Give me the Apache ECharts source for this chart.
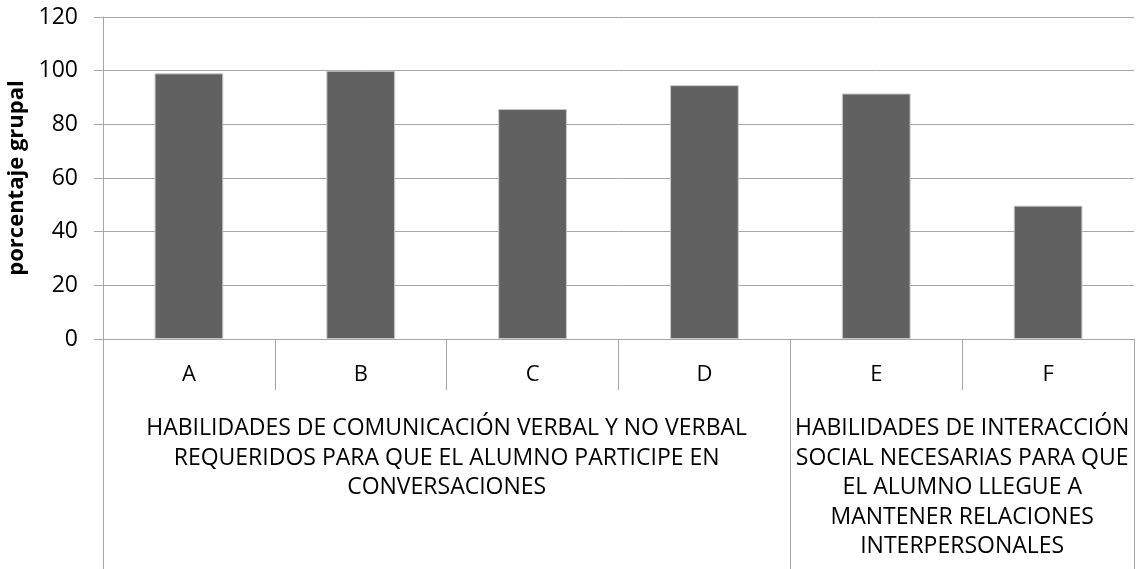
<!DOCTYPE html>
<html>
<head>
<meta charset="utf-8">
<script src="https://cdn.jsdelivr.net/npm/echarts@6/dist/echarts.min.js"></script>
<style>
  html, body { margin: 0; padding: 0; background: #ffffff; }
  #chart { width: 1139px; height: 569px; }
</style>
</head>
<body>
<div id="chart"></div>
<script>
// Categories and group percentages
const categories = ['A', 'B', 'C', 'D', 'E', 'F'];
const values = [99, 100, 85.7, 94.6, 91.5, 49.7];
const yMin = 0;
const yMax = 120;
const yStep = 20;
const yTitle = 'porcentaje grupal';

// Second-level labels: each group spans a run of categories
const groupNames = [
  'HABILIDADES DE COMUNICACIÓN VERBAL Y NO VERBAL\nREQUERIDOS PARA QUE EL ALUMNO PARTICIPE EN\nCONVERSACIONES',
  'HABILIDADES DE INTERACCIÓN\nSOCIAL NECESARIAS PARA QUE\nEL ALUMNO LLEGUE A\nMANTENER RELACIONES\nINTERPERSONALES'
];
const groupFirst = [0, 4];
const groupLast = [3, 5];

const FONT = '"Open Sans", sans-serif';
const LINE = '#a6a6a6';

const chart = echarts.init(document.getElementById('chart'), null, { renderer: 'canvas' });

chart.setOption({
  animation: false,
  backgroundColor: '#ffffff',
  grid: { left: 103, right: 5, top: 17, bottom: 230, containLabel: false, outerBoundsMode: 'none' },
  xAxis: {
    type: 'category',
    data: categories,
    boundaryGap: true,
    axisLine: { show: true, lineStyle: { color: LINE, width: 1 } },
    axisTick: { show: true, interval: 0, length: 51, lineStyle: { color: LINE, width: 1 } },
    axisLabel: {
      interval: 0, margin: 24, color: '#000000',
      fontFamily: FONT, fontSize: 22, lineHeight: 24
    },
    splitLine: { show: false }
  },
  yAxis: {
    type: 'value',
    min: yMin, max: yMax, interval: yStep,
    name: yTitle,
    nameLocation: 'middle',
    nameRotate: 90,
    nameGap: 71,
    nameTextStyle: { color: '#000000', fontFamily: FONT, fontSize: 22, fontWeight: 'bold' },
    axisLine: { show: true, lineStyle: { color: LINE, width: 1 } },
    axisTick: { show: true, length: 9, lineStyle: { color: LINE, width: 1 } },
    axisLabel: { margin: 25, color: '#000000', fontFamily: FONT, fontSize: 23 },
    splitLine: { show: true, lineStyle: { color: LINE, width: 1 } }
  },
  series: [{
    type: 'bar',
    data: values,
    barWidth: '40%',
    itemStyle: { color: '#616161', borderColor: '#c8c8c8', borderWidth: 1 }
  }]
});

// Group separators and labels, placed through the category axis scale
function drawGroups() {
  const c0 = chart.convertToPixel({ xAxisIndex: 0 }, 0);
  const c1 = chart.convertToPixel({ xAxisIndex: 0 }, 1);
  const band = c1 - c0;
  const yBase = chart.convertToPixel({ yAxisIndex: 0 }, yMin);
  const bottom = chart.getHeight();
  const elements = [];
  const edges = new Set();
  groupNames.forEach((name, i) => {
    const x0 = chart.convertToPixel({ xAxisIndex: 0 }, groupFirst[i]) - band / 2;
    const x1 = chart.convertToPixel({ xAxisIndex: 0 }, groupLast[i]) + band / 2;
    edges.add(Math.round(x0) + 0.5);
    edges.add(Math.round(x1) + 0.5);
    elements.push({
      type: 'text',
      x: (x0 + x1) / 2,
      y: yBase + 75,
      style: {
        text: name,
        fill: '#000000',
        font: '23px ' + FONT,
        lineHeight: 29.5,
        align: 'center',
        verticalAlign: 'top'
      }
    });
  });
  edges.forEach(x => {
    elements.push({
      type: 'line',
      shape: { x1: x, y1: yBase, x2: x, y2: bottom },
      style: { stroke: LINE, lineWidth: 1 }
    });
  });
  chart.setOption({ graphic: elements });
}
drawGroups();
</script>
</body>
</html>
